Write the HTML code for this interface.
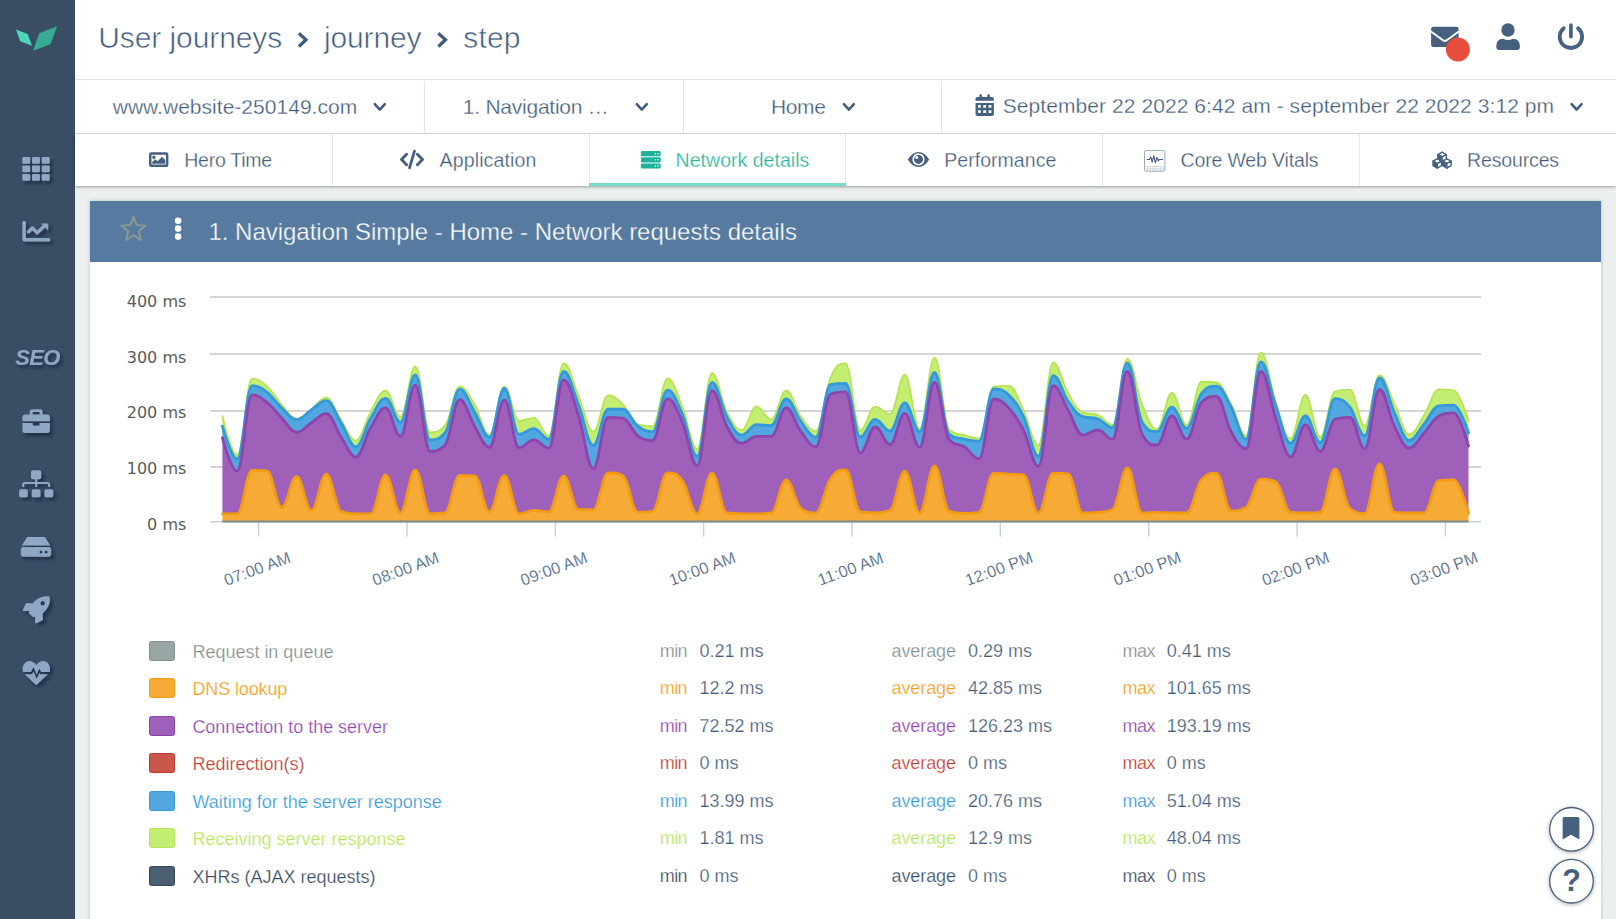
<!DOCTYPE html>
<html><head><meta charset="utf-8"><title>User journeys - step</title>
<style>
html,body{margin:0;padding:0}
body{width:1616px;height:919px;overflow:hidden;position:relative;background:#ecf0f1;font-family:"Liberation Sans",sans-serif}
.t{font-family:"Liberation Sans",sans-serif;white-space:pre}
.abs{position:absolute}
.yl{font-family:"DejaVu Sans",sans-serif;font-size:16px;fill:#5a5a5a}
.xl{font-family:"Liberation Sans",sans-serif;font-size:16.3px;letter-spacing:0.1px;fill:#3f5b7b;stroke:#fff;stroke-width:0.22px}
</style></head><body>
<div class="abs" style="left:0;top:0;width:75px;height:919px;background:#394d65"></div>
<div class="abs" style="left:75px;top:0;width:1541px;height:79px;background:#fff;border-bottom:1px solid #dde5e9"></div>
<div class="abs" style="left:75px;top:80px;width:1541px;height:53px;background:#fff;border-bottom:1px solid #dde5e9"></div>
<div class="abs" style="left:75px;top:134px;width:1541px;height:52px;background:#fff;box-shadow:0 1px 3px rgba(0,0,0,.35)"></div>
<div class="abs" style="left:424px;top:81px;width:1px;height:52px;background:#dde5e9"></div>
<div class="abs" style="left:683px;top:81px;width:1px;height:52px;background:#dde5e9"></div>
<div class="abs" style="left:941px;top:81px;width:1px;height:52px;background:#dde5e9"></div>
<div class="abs" style="left:332px;top:134px;width:1px;height:52px;background:#e3eaed"></div>
<div class="abs" style="left:589px;top:134px;width:1px;height:52px;background:#e3eaed"></div>
<div class="abs" style="left:845px;top:134px;width:1px;height:52px;background:#e3eaed"></div>
<div class="abs" style="left:1102px;top:134px;width:1px;height:52px;background:#e3eaed"></div>
<div class="abs" style="left:1359px;top:134px;width:1px;height:52px;background:#e3eaed"></div>
<div class="abs" style="left:589px;top:183px;width:257px;height:3px;background:#76dccb"></div>
<div class="abs" style="left:90px;top:201px;width:1511px;height:730px;background:#fff;box-shadow:0 0 4px rgba(0,0,0,.22)"></div>
<div class="abs" style="left:90px;top:201px;width:1511px;height:61px;background:#577ba0"></div>
<svg class="chart" width="1616" height="919" viewBox="0 0 1616 919" style="position:absolute;left:0;top:0"><rect x="210" y="296.35" width="1271" height="1.3" fill="#bfbfbf"/>
<rect x="210" y="353.35" width="1271" height="1.3" fill="#bfbfbf"/>
<rect x="210" y="410.35" width="1271" height="1.3" fill="#bfbfbf"/>
<rect x="210" y="466.35" width="1271" height="1.3" fill="#bfbfbf"/>
<rect x="210" y="521" width="1271" height="1.5" fill="#c3d1e2"/>
<rect x="257.9" y="522" width="1.4" height="14.6" fill="#c3d1e2"/>
<rect x="406.3" y="522" width="1.4" height="14.6" fill="#c3d1e2"/>
<rect x="554.6" y="522" width="1.4" height="14.6" fill="#c3d1e2"/>
<rect x="702.9" y="522" width="1.4" height="14.6" fill="#c3d1e2"/>
<rect x="851.3" y="522" width="1.4" height="14.6" fill="#c3d1e2"/>
<rect x="999.6" y="522" width="1.4" height="14.6" fill="#c3d1e2"/>
<rect x="1148" y="522" width="1.4" height="14.6" fill="#c3d1e2"/>
<rect x="1296.4" y="522" width="1.4" height="14.6" fill="#c3d1e2"/>
<rect x="1444.7" y="522" width="1.4" height="14.6" fill="#c3d1e2"/>
<path d="M222.4 416C222.4 416 231.3 454.8 237.2 454.8C243.2 454.8 246.1 378.6 252.1 378.6C258 378.6 261 380.9 266.9 386.1C272.8 391.2 275.8 397.9 281.7 404.5C287.7 411 290.6 418.8 296.6 418.8C302.5 418.8 305.5 413.4 311.4 409.2C317.3 405 320.3 397.6 326.2 397.6C332.2 397.6 335.1 411.5 341.1 420.1C347 428.7 350 440.5 355.9 440.5C361.8 440.5 364.8 421.3 370.8 411.3C376.7 401.3 379.7 390.6 385.6 390.6C391.5 390.6 394.5 416.7 400.4 416.7C406.4 416.7 409.3 366.3 415.3 366.3C421.2 366.3 424.2 432.4 430.1 432.4C436 432.4 439 432.4 444.9 425.6C450.9 418.8 453.8 386.5 459.8 386.5C465.7 386.5 468.7 394.7 474.6 404.5C480.5 414.2 483.5 435.1 489.4 435.1C495.4 435.1 498.3 386.5 504.3 386.5C510.2 386.5 513.2 420.8 519.1 420.8C525 420.8 528 417.8 533.9 417.8C539.9 417.8 542.8 435.8 548.8 435.8C554.7 435.8 557.7 363.3 563.6 363.3C569.5 363.3 572.5 381.9 578.4 395.6C584.4 409.3 587.3 431.7 593.3 431.7C599.2 431.7 602.2 395.2 608.1 395.2C614 395.2 617 398.7 622.9 404.5C628.9 410.3 631.8 422.2 637.8 424.2C643.7 426.2 646.7 426.2 652.6 426.2C658.5 426.2 661.5 378.6 667.5 378.6C673.4 378.6 676.4 392.5 682.3 406.5C688.2 420.5 691.2 448.7 697.1 448.7C703.1 448.7 706 373.1 712 373.1C717.9 373.1 720.9 400.6 726.8 411.9C732.7 423.3 735.7 430 741.6 430C747.6 430 750.5 406.5 756.5 406.5C762.4 406.5 765.4 419.4 771.3 419.4C777.2 419.4 780.2 390.6 786.1 390.6C792.1 390.6 795 408.6 801 416.7C806.9 424.8 809.9 431 815.8 431C821.7 431 824.7 390.8 830.6 377.2C836.6 363.7 839.5 363.3 845.5 363.3C851.4 363.3 854.4 430.3 860.3 430.3C866.2 430.3 869.2 406.5 875.1 406.5C881.1 406.5 884 414 890 414C895.9 414 898.9 374.5 904.8 374.5C910.7 374.5 913.7 429 919.6 429C925.6 429 928.5 357.5 934.5 357.5C940.4 357.5 943.4 424.2 949.3 429.6C955.2 435.1 958.2 433.3 964.1 435.1C970.1 436.9 973.1 438.5 979 438.5C984.9 438.5 987.9 387.3 993.8 386.5C999.8 385.7 1002.7 385.7 1008.7 385.7C1014.6 385.7 1017.6 398 1023.5 409.9C1029.4 421.8 1032.4 445.3 1038.3 445.3C1044.3 445.3 1047.2 362.5 1053.2 362.5C1059.1 362.5 1062.1 382.9 1068 392.9C1073.9 402.9 1076.9 410.6 1082.8 412.6C1088.8 414.7 1091.7 412.6 1097.7 414.7C1103.6 416.7 1106.6 424.9 1112.5 424.9C1118.4 424.9 1121.4 358.8 1127.3 358.8C1133.3 358.8 1136.2 390.4 1142.2 404.5C1148.1 418.5 1151.1 429 1157 429C1162.9 429 1165.9 392.9 1171.8 392.9C1177.8 392.9 1180.7 424.9 1186.7 424.9C1192.6 424.9 1195.6 381.6 1201.5 381.6C1207.4 381.6 1210.4 381.6 1216.3 382.4C1222.3 383.2 1225.2 393.8 1231.2 404.5C1237.1 415.1 1240.1 435.8 1246 435.8C1251.9 435.8 1254.9 352.5 1260.9 352.5C1266.8 352.5 1269.8 384.5 1275.7 401.7C1281.6 418.9 1284.6 438.5 1290.5 438.5C1296.5 438.5 1299.4 394.9 1305.4 394.9C1311.3 394.9 1314.3 437.1 1320.2 437.1C1326.1 437.1 1329.1 393.6 1335 391.5C1341 389.5 1343.9 389.5 1349.9 389.5C1355.8 389.5 1358.8 425.6 1364.7 425.6C1370.6 425.6 1373.6 375.2 1379.5 375.2C1385.5 375.2 1388.4 391.9 1394.4 403.8C1400.3 415.6 1403.3 434.4 1409.2 434.4C1415.1 434.4 1418.1 424.4 1424 415.3C1430 406.3 1432.9 389.2 1438.9 389.2C1444.8 389.2 1447.8 389.2 1453.7 390.2C1459.6 391.1 1468.5 420.8 1468.5 420.8L1468.5 433C1468.5 433 1459.6 405.1 1453.7 405.1C1447.8 405.1 1444.8 405.1 1438.9 405.8C1432.9 406.5 1430 417.3 1424 424.2C1418.1 431.1 1415.1 440.5 1409.2 440.5C1403.3 440.5 1400.3 425.1 1394.4 412.6C1388.4 400.1 1385.5 377.9 1379.5 377.9C1373.6 377.9 1370.6 435.8 1364.7 435.8C1358.8 435.8 1355.8 414.6 1349.9 407.2C1343.9 399.8 1341 398.7 1335 398.7C1329.1 398.7 1326.1 442.6 1320.2 442.6C1314.3 442.6 1311.3 416 1305.4 416C1299.4 416 1296.5 443.3 1290.5 443.3C1284.6 443.3 1281.6 422.1 1275.7 405.8C1269.8 389.6 1266.8 362 1260.9 362C1254.9 362 1251.9 439.2 1246 439.2C1240.1 439.2 1237.1 417.8 1231.2 407.2C1225.2 396.6 1222.3 386.1 1216.3 386.1C1210.4 386.1 1207.4 386.1 1201.5 393.6C1195.6 401.1 1192.6 428.3 1186.7 428.3C1180.7 428.3 1177.8 407.2 1171.8 407.2C1165.9 407.2 1162.9 431.7 1157 431.7C1151.1 431.7 1148.1 431.7 1142.2 422.2C1136.2 412.6 1133.3 362.9 1127.3 362.9C1121.4 362.9 1118.4 427.6 1112.5 427.6C1106.6 427.6 1103.6 420.8 1097.7 418.8C1091.7 416.7 1088.8 418.8 1082.8 416.7C1076.9 414.7 1073.9 409.3 1068 401.1C1062.1 392.8 1059.1 375.6 1053.2 375.6C1047.2 375.6 1044.3 456.2 1038.3 456.2C1032.4 456.2 1029.4 429 1023.5 416.7C1017.6 404.5 1014.6 400.5 1008.7 394.9C1002.7 389.3 999.8 388.8 993.8 388.8C987.9 388.8 984.9 441.2 979 441.2C973.1 441.2 970.1 440.5 964.1 439.2C958.2 437.8 955.2 439.2 949.3 434.4C943.4 429.6 940.4 372.5 934.5 372.5C928.5 372.5 925.6 431.7 919.6 431.7C913.7 431.7 910.7 402.8 904.8 402.8C898.9 402.8 895.9 431 890 431C884 431 881.1 419.4 875.1 419.4C869.2 419.4 866.2 437.1 860.3 437.1C854.4 437.1 851.4 383.4 845.5 383.4C839.5 383.4 836.6 383.4 830.6 384.7C824.7 386.1 821.7 437.1 815.8 437.1C809.9 437.1 806.9 429.1 801 421.5C795 413.8 792.1 399 786.1 399C780.2 399 777.2 425.6 771.3 425.6C765.4 425.6 762.4 424.6 756.5 424.6C750.5 424.6 747.6 435.1 741.6 435.1C735.7 435.1 732.7 427.2 726.8 416.7C720.9 406.2 717.9 382.4 712 382.4C706 382.4 703.1 456.2 697.1 456.2C691.2 456.2 688.2 427.2 682.3 414C676.4 400.8 673.4 390.2 667.5 390.2C661.5 390.2 658.5 431.7 652.6 431.7C646.7 431.7 643.7 430.7 637.8 426.2C631.8 421.7 628.9 409.2 622.9 409.2C617 409.2 614 409.2 608.1 409.2C602.2 409.2 599.2 445.3 593.3 445.3C587.3 445.3 584.4 419.2 578.4 404.5C572.5 389.7 569.5 371.5 563.6 371.5C557.7 371.5 554.7 439.2 548.8 439.2C542.8 439.2 539.9 428.7 533.9 428.7C528 428.7 525 434.4 519.1 434.4C513.2 434.4 510.2 388.4 504.3 388.4C498.3 388.4 495.4 437.1 489.4 437.1C483.5 437.1 480.5 421.5 474.6 411.9C468.7 402.4 465.7 389.2 459.8 389.2C453.8 389.2 450.9 426.2 444.9 433C439 439.9 436 439.9 430.1 439.9C424.2 439.9 421.2 374.9 415.3 374.9C409.3 374.9 406.4 422.2 400.4 422.2C394.5 422.2 391.5 398.3 385.6 398.3C379.7 398.3 376.7 408.3 370.8 418.1C364.8 427.8 361.8 446.9 355.9 446.9C350 446.9 347 432.1 341.1 422.8C335.1 413.6 332.2 400.6 326.2 400.6C320.3 400.6 317.3 406.1 311.4 409.9C305.5 413.7 302.5 419.7 296.6 419.7C290.6 419.7 287.7 413.4 281.7 407.9C275.8 402.4 272.8 396.6 266.9 392.2C261 387.8 258 385.7 252.1 385.7C246.1 385.7 243.2 458.9 237.2 458.9C231.3 458.9 222.4 426.2 222.4 426.2Z" fill="#c4ee72"/>
<path d="M222.4 426.2C222.4 426.2 231.3 458.9 237.2 458.9C243.2 458.9 246.1 385.7 252.1 385.7C258 385.7 261 387.8 266.9 392.2C272.8 396.6 275.8 402.4 281.7 407.9C287.7 413.4 290.6 419.7 296.6 419.7C302.5 419.7 305.5 413.7 311.4 409.9C317.3 406.1 320.3 400.6 326.2 400.6C332.2 400.6 335.1 413.6 341.1 422.8C347 432.1 350 446.9 355.9 446.9C361.8 446.9 364.8 427.8 370.8 418.1C376.7 408.3 379.7 398.3 385.6 398.3C391.5 398.3 394.5 422.2 400.4 422.2C406.4 422.2 409.3 374.9 415.3 374.9C421.2 374.9 424.2 439.9 430.1 439.9C436 439.9 439 439.9 444.9 433C450.9 426.2 453.8 389.2 459.8 389.2C465.7 389.2 468.7 402.4 474.6 411.9C480.5 421.5 483.5 437.1 489.4 437.1C495.4 437.1 498.3 388.4 504.3 388.4C510.2 388.4 513.2 434.4 519.1 434.4C525 434.4 528 428.7 533.9 428.7C539.9 428.7 542.8 439.2 548.8 439.2C554.7 439.2 557.7 371.5 563.6 371.5C569.5 371.5 572.5 389.7 578.4 404.5C584.4 419.2 587.3 445.3 593.3 445.3C599.2 445.3 602.2 409.2 608.1 409.2C614 409.2 617 409.2 622.9 409.2C628.9 409.2 631.8 421.7 637.8 426.2C643.7 430.7 646.7 431.7 652.6 431.7C658.5 431.7 661.5 390.2 667.5 390.2C673.4 390.2 676.4 400.8 682.3 414C688.2 427.2 691.2 456.2 697.1 456.2C703.1 456.2 706 382.4 712 382.4C717.9 382.4 720.9 406.2 726.8 416.7C732.7 427.2 735.7 435.1 741.6 435.1C747.6 435.1 750.5 424.6 756.5 424.6C762.4 424.6 765.4 425.6 771.3 425.6C777.2 425.6 780.2 399 786.1 399C792.1 399 795 413.8 801 421.5C806.9 429.1 809.9 437.1 815.8 437.1C821.7 437.1 824.7 386.1 830.6 384.7C836.6 383.4 839.5 383.4 845.5 383.4C851.4 383.4 854.4 437.1 860.3 437.1C866.2 437.1 869.2 419.4 875.1 419.4C881.1 419.4 884 431 890 431C895.9 431 898.9 402.8 904.8 402.8C910.7 402.8 913.7 431.7 919.6 431.7C925.6 431.7 928.5 372.5 934.5 372.5C940.4 372.5 943.4 429.6 949.3 434.4C955.2 439.2 958.2 437.8 964.1 439.2C970.1 440.5 973.1 441.2 979 441.2C984.9 441.2 987.9 388.8 993.8 388.8C999.8 388.8 1002.7 389.3 1008.7 394.9C1014.6 400.5 1017.6 404.5 1023.5 416.7C1029.4 429 1032.4 456.2 1038.3 456.2C1044.3 456.2 1047.2 375.6 1053.2 375.6C1059.1 375.6 1062.1 392.8 1068 401.1C1073.9 409.3 1076.9 414.7 1082.8 416.7C1088.8 418.8 1091.7 416.7 1097.7 418.8C1103.6 420.8 1106.6 427.6 1112.5 427.6C1118.4 427.6 1121.4 362.9 1127.3 362.9C1133.3 362.9 1136.2 412.6 1142.2 422.2C1148.1 431.7 1151.1 431.7 1157 431.7C1162.9 431.7 1165.9 407.2 1171.8 407.2C1177.8 407.2 1180.7 428.3 1186.7 428.3C1192.6 428.3 1195.6 401.1 1201.5 393.6C1207.4 386.1 1210.4 386.1 1216.3 386.1C1222.3 386.1 1225.2 396.6 1231.2 407.2C1237.1 417.8 1240.1 439.2 1246 439.2C1251.9 439.2 1254.9 362 1260.9 362C1266.8 362 1269.8 389.6 1275.7 405.8C1281.6 422.1 1284.6 443.3 1290.5 443.3C1296.5 443.3 1299.4 416 1305.4 416C1311.3 416 1314.3 442.6 1320.2 442.6C1326.1 442.6 1329.1 398.7 1335 398.7C1341 398.7 1343.9 399.8 1349.9 407.2C1355.8 414.6 1358.8 435.8 1364.7 435.8C1370.6 435.8 1373.6 377.9 1379.5 377.9C1385.5 377.9 1388.4 400.1 1394.4 412.6C1400.3 425.1 1403.3 440.5 1409.2 440.5C1415.1 440.5 1418.1 431.1 1424 424.2C1430 417.3 1432.9 406.5 1438.9 405.8C1444.8 405.1 1447.8 405.1 1453.7 405.1C1459.6 405.1 1468.5 433 1468.5 433L1468.5 446C1468.5 446 1459.6 412.9 1453.7 412.9C1447.8 412.9 1444.8 412.9 1438.9 416C1432.9 419.2 1430 426.6 1424 433C1418.1 439.4 1415.1 448 1409.2 448C1403.3 448 1400.3 437.9 1394.4 426.2C1388.4 414.5 1385.5 389.5 1379.5 389.5C1373.6 389.5 1370.6 448.7 1364.7 448.7C1358.8 448.7 1355.8 417.4 1349.9 417.4C1343.9 417.4 1341 417.4 1335 419.4C1329.1 421.5 1326.1 451.4 1320.2 451.4C1314.3 451.4 1311.3 424.9 1305.4 424.9C1299.4 424.9 1296.5 456.9 1290.5 456.9C1284.6 456.9 1281.6 435.1 1275.7 418.1C1269.8 401 1266.8 371.5 1260.9 371.5C1254.9 371.5 1251.9 448.7 1246 448.7C1240.1 448.7 1237.1 442.2 1231.2 431.7C1225.2 421.2 1222.3 396.3 1216.3 396.3C1210.4 396.3 1207.4 396.3 1201.5 402.4C1195.6 408.5 1192.6 439.2 1186.7 439.2C1180.7 439.2 1177.8 416 1171.8 416C1165.9 416 1162.9 445 1157 445C1151.1 445 1148.1 445 1142.2 434.4C1136.2 423.8 1133.3 371.5 1127.3 371.5C1121.4 371.5 1118.4 439.2 1112.5 439.2C1106.6 439.2 1103.6 430 1097.7 430C1091.7 430 1088.8 435.1 1082.8 435.1C1076.9 435.1 1073.9 419.8 1068 409.9C1062.1 400 1059.1 385.7 1053.2 385.7C1047.2 385.7 1044.3 466.4 1038.3 466.4C1032.4 466.4 1029.4 442 1023.5 430.3C1017.6 418.6 1014.6 414.1 1008.7 407.9C1002.7 401.6 999.8 399 993.8 399C987.9 399 984.9 458.9 979 458.9C973.1 458.9 970.1 450.5 964.1 446.7C958.2 442.8 955.2 446.7 949.3 439.9C943.4 433 940.4 382.4 934.5 382.4C928.5 382.4 925.6 447.3 919.6 447.3C913.7 447.3 910.7 413.3 904.8 413.3C898.9 413.3 895.9 444.6 890 444.6C884 444.6 881.1 426.9 875.1 426.9C869.2 426.9 866.2 452.8 860.3 452.8C854.4 452.8 851.4 391.9 845.5 391.9C839.5 391.9 836.6 391.9 830.6 394.2C824.7 396.6 821.7 446.7 815.8 446.7C809.9 446.7 806.9 439.4 801 431.7C795 423.9 792.1 407.9 786.1 407.9C780.2 407.9 777.2 436.4 771.3 436.4C765.4 436.4 762.4 436.4 756.5 436.4C750.5 436.4 747.6 443.3 741.6 443.3C735.7 443.3 732.7 436.8 726.8 426.2C720.9 415.7 717.9 390.6 712 390.6C706 390.6 703.1 465.7 697.1 465.7C691.2 465.7 688.2 435.5 682.3 422.2C676.4 408.8 673.4 399 667.5 399C661.5 399 658.5 440.5 652.6 440.5C646.7 440.5 643.7 440.3 637.8 435.8C631.8 431.3 628.9 418.8 622.9 418.1C617 417.4 614 417.4 608.1 417.4C602.2 417.4 599.2 468.4 593.3 468.4C587.3 468.4 584.4 433 578.4 415.3C572.5 397.6 569.5 380 563.6 380C557.7 380 554.7 448 548.8 448C542.8 448 539.9 439.9 533.9 439.9C528 439.9 525 447.7 519.1 447.7C513.2 447.7 510.2 400.1 504.3 400.1C498.3 400.1 495.4 447.3 489.4 447.3C483.5 447.3 480.5 435.8 474.6 426.2C468.7 416.7 465.7 399.7 459.8 399.7C453.8 399.7 450.9 439.2 444.9 445.3C439 451.4 436 451.4 430.1 451.4C424.2 451.4 421.2 385.1 415.3 385.1C409.3 385.1 406.4 436.4 400.4 436.4C394.5 436.4 391.5 407.9 385.6 407.9C379.7 407.9 376.7 417.8 370.8 427.6C364.8 437.4 361.8 456.9 355.9 456.9C350 456.9 347 445.8 341.1 437.1C335.1 428.5 332.2 413.7 326.2 413.7C320.3 413.7 317.3 419.1 311.4 422.8C305.5 426.6 302.5 432.4 296.6 432.4C290.6 432.4 287.7 424.1 281.7 418.1C275.8 412.1 272.8 407 266.9 402.4C261 397.8 258 394.9 252.1 394.9C246.1 394.9 243.2 471.2 237.2 471.2C231.3 471.2 222.4 437.8 222.4 437.8Z" fill="#52a7e0"/>
<path d="M222.4 437.8C222.4 437.8 231.3 471.2 237.2 471.2C243.2 471.2 246.1 394.9 252.1 394.9C258 394.9 261 397.8 266.9 402.4C272.8 407 275.8 412.1 281.7 418.1C287.7 424.1 290.6 432.4 296.6 432.4C302.5 432.4 305.5 426.6 311.4 422.8C317.3 419.1 320.3 413.7 326.2 413.7C332.2 413.7 335.1 428.5 341.1 437.1C347 445.8 350 456.9 355.9 456.9C361.8 456.9 364.8 437.4 370.8 427.6C376.7 417.8 379.7 407.9 385.6 407.9C391.5 407.9 394.5 436.4 400.4 436.4C406.4 436.4 409.3 385.1 415.3 385.1C421.2 385.1 424.2 451.4 430.1 451.4C436 451.4 439 451.4 444.9 445.3C450.9 439.2 453.8 399.7 459.8 399.7C465.7 399.7 468.7 416.7 474.6 426.2C480.5 435.8 483.5 447.3 489.4 447.3C495.4 447.3 498.3 400.1 504.3 400.1C510.2 400.1 513.2 447.7 519.1 447.7C525 447.7 528 439.9 533.9 439.9C539.9 439.9 542.8 448 548.8 448C554.7 448 557.7 380 563.6 380C569.5 380 572.5 397.6 578.4 415.3C584.4 433 587.3 468.4 593.3 468.4C599.2 468.4 602.2 417.4 608.1 417.4C614 417.4 617 417.4 622.9 418.1C628.9 418.8 631.8 431.3 637.8 435.8C643.7 440.3 646.7 440.5 652.6 440.5C658.5 440.5 661.5 399 667.5 399C673.4 399 676.4 408.8 682.3 422.2C688.2 435.5 691.2 465.7 697.1 465.7C703.1 465.7 706 390.6 712 390.6C717.9 390.6 720.9 415.7 726.8 426.2C732.7 436.8 735.7 443.3 741.6 443.3C747.6 443.3 750.5 436.4 756.5 436.4C762.4 436.4 765.4 436.4 771.3 436.4C777.2 436.4 780.2 407.9 786.1 407.9C792.1 407.9 795 423.9 801 431.7C806.9 439.4 809.9 446.7 815.8 446.7C821.7 446.7 824.7 396.6 830.6 394.2C836.6 391.9 839.5 391.9 845.5 391.9C851.4 391.9 854.4 452.8 860.3 452.8C866.2 452.8 869.2 426.9 875.1 426.9C881.1 426.9 884 444.6 890 444.6C895.9 444.6 898.9 413.3 904.8 413.3C910.7 413.3 913.7 447.3 919.6 447.3C925.6 447.3 928.5 382.4 934.5 382.4C940.4 382.4 943.4 433 949.3 439.9C955.2 446.7 958.2 442.8 964.1 446.7C970.1 450.5 973.1 458.9 979 458.9C984.9 458.9 987.9 399 993.8 399C999.8 399 1002.7 401.6 1008.7 407.9C1014.6 414.1 1017.6 418.6 1023.5 430.3C1029.4 442 1032.4 466.4 1038.3 466.4C1044.3 466.4 1047.2 385.7 1053.2 385.7C1059.1 385.7 1062.1 400 1068 409.9C1073.9 419.8 1076.9 435.1 1082.8 435.1C1088.8 435.1 1091.7 430 1097.7 430C1103.6 430 1106.6 439.2 1112.5 439.2C1118.4 439.2 1121.4 371.5 1127.3 371.5C1133.3 371.5 1136.2 423.8 1142.2 434.4C1148.1 445 1151.1 445 1157 445C1162.9 445 1165.9 416 1171.8 416C1177.8 416 1180.7 439.2 1186.7 439.2C1192.6 439.2 1195.6 408.5 1201.5 402.4C1207.4 396.3 1210.4 396.3 1216.3 396.3C1222.3 396.3 1225.2 421.2 1231.2 431.7C1237.1 442.2 1240.1 448.7 1246 448.7C1251.9 448.7 1254.9 371.5 1260.9 371.5C1266.8 371.5 1269.8 401 1275.7 418.1C1281.6 435.1 1284.6 456.9 1290.5 456.9C1296.5 456.9 1299.4 424.9 1305.4 424.9C1311.3 424.9 1314.3 451.4 1320.2 451.4C1326.1 451.4 1329.1 421.5 1335 419.4C1341 417.4 1343.9 417.4 1349.9 417.4C1355.8 417.4 1358.8 448.7 1364.7 448.7C1370.6 448.7 1373.6 389.5 1379.5 389.5C1385.5 389.5 1388.4 414.5 1394.4 426.2C1400.3 437.9 1403.3 448 1409.2 448C1415.1 448 1418.1 439.4 1424 433C1430 426.6 1432.9 419.2 1438.9 416C1444.8 412.9 1447.8 412.9 1453.7 412.9C1459.6 412.9 1468.5 446 1468.5 446L1468.5 513.4C1468.5 513.4 1459.6 479.8 1453.7 479.8C1447.8 479.8 1444.8 479.8 1438.9 480.7C1432.9 481.7 1430 513 1424 513C1418.1 513 1415.1 513 1409.2 513C1403.3 513 1400.3 513 1394.4 512.4C1388.4 511.8 1385.5 463.9 1379.5 463.9C1373.6 463.9 1370.6 513.4 1364.7 513.4C1358.8 513.4 1355.8 513.4 1349.9 508.5C1343.9 503.5 1341 468.9 1335 468.9C1329.1 468.9 1326.1 511.8 1320.2 512.4C1314.3 513 1311.3 513 1305.4 513C1299.4 513 1296.5 513 1290.5 512.4C1284.6 511.8 1281.6 484.3 1275.7 481.7C1269.8 479.2 1266.8 479.2 1260.9 479.2C1254.9 479.2 1251.9 503.9 1246 507.5C1240.1 511 1237.1 511 1231.2 511C1225.2 511 1222.3 473.2 1216.3 473.2C1210.4 473.2 1207.4 473.2 1201.5 479.8C1195.6 486.3 1192.6 513 1186.7 513C1180.7 513 1177.8 512.9 1171.8 512.8C1165.9 512.7 1162.9 512.4 1157 512.4C1151.1 512.4 1148.1 513 1142.2 513C1136.2 513 1133.3 467.9 1127.3 467.9C1121.4 467.9 1118.4 506.5 1112.5 509.5C1106.6 512.4 1103.6 511.8 1097.7 512.4C1091.7 513 1088.8 513 1082.8 513C1076.9 513 1073.9 474.4 1068 473.8C1062.1 473.2 1059.1 473.2 1053.2 473.2C1047.2 473.2 1044.3 513 1038.3 513C1032.4 513 1029.4 475.4 1023.5 474.8C1017.6 474.2 1014.6 474.5 1008.7 474.2C1002.7 473.9 999.8 473.2 993.8 473.2C987.9 473.2 984.9 511.4 979 512.4C973.1 513.4 970.1 513.4 964.1 513.4C958.2 513.4 955.2 513.4 949.3 511.4C943.4 509.5 940.4 465.9 934.5 465.9C928.5 465.9 925.6 513 919.6 513C913.7 513 910.7 471.2 904.8 471.2C898.9 471.2 895.9 508.1 890 510.4C884 512.8 881.1 512.8 875.1 512.8C869.2 512.8 866.2 512.8 860.3 512C854.4 511.2 851.4 469.9 845.5 469.9C839.5 469.9 836.6 470.1 830.6 478.8C824.7 487.4 821.7 513 815.8 513C809.9 513 806.9 513 801 508.5C795 503.9 792.1 479.8 786.1 479.8C780.2 479.8 777.2 512.2 771.3 513C765.4 513.8 762.4 513.8 756.5 513.8C750.5 513.8 747.6 513.8 741.6 513.8C735.7 513.8 732.7 513.8 726.8 513C720.9 512.2 717.9 473.2 712 473.2C706 473.2 703.1 513.8 697.1 513.8C691.2 513.8 688.2 488.7 682.3 480.7C676.4 472.8 673.4 472.8 667.5 472.8C661.5 472.8 658.5 510.4 652.6 511.4C646.7 512.4 643.7 512.4 637.8 512.4C631.8 512.4 628.9 478.8 622.9 475.8C617 472.8 614 472.8 608.1 472.8C602.2 472.8 599.2 509.9 593.3 509.9C587.3 509.9 584.4 509.9 578.4 509.5C572.5 509.1 569.5 475.8 563.6 475.8C557.7 475.8 554.7 512 548.8 512C542.8 512 539.9 510.4 533.9 510.4C528 510.4 525 513.8 519.1 513.8C513.2 513.8 510.2 475.4 504.3 475.4C498.3 475.4 495.4 511.8 489.4 511.8C483.5 511.8 480.5 476.2 474.6 475.8C468.7 475.4 465.7 475.4 459.8 475.4C453.8 475.4 450.9 512.2 444.9 513C439 513.8 436 513.8 430.1 513.8C424.2 513.8 421.2 469.9 415.3 469.9C409.3 469.9 406.4 512.8 400.4 512.8C394.5 512.8 391.5 474.8 385.6 474.8C379.7 474.8 376.7 513.8 370.8 513.8C364.8 513.8 361.8 513.8 355.9 513.8C350 513.8 347 513.8 341.1 511.4C335.1 509.1 332.2 474.2 326.2 474.2C320.3 474.2 317.3 510.4 311.4 510.4C305.5 510.4 302.5 476.4 296.6 476.4C290.6 476.4 287.7 507.5 281.7 507.5C275.8 507.5 272.8 471.2 266.9 470.8C261 470.4 258 470.4 252.1 470.4C246.1 470.4 243.2 513.8 237.2 513.8C231.3 513.8 222.4 513.8 222.4 513.8Z" fill="#9f60b9"/>
<path d="M222.4 513.8C222.4 513.8 231.3 513.8 237.2 513.8C243.2 513.8 246.1 470.4 252.1 470.4C258 470.4 261 470.4 266.9 470.8C272.8 471.2 275.8 507.5 281.7 507.5C287.7 507.5 290.6 476.4 296.6 476.4C302.5 476.4 305.5 510.4 311.4 510.4C317.3 510.4 320.3 474.2 326.2 474.2C332.2 474.2 335.1 509.1 341.1 511.4C347 513.8 350 513.8 355.9 513.8C361.8 513.8 364.8 513.8 370.8 513.8C376.7 513.8 379.7 474.8 385.6 474.8C391.5 474.8 394.5 512.8 400.4 512.8C406.4 512.8 409.3 469.9 415.3 469.9C421.2 469.9 424.2 513.8 430.1 513.8C436 513.8 439 513.8 444.9 513C450.9 512.2 453.8 475.4 459.8 475.4C465.7 475.4 468.7 475.4 474.6 475.8C480.5 476.2 483.5 511.8 489.4 511.8C495.4 511.8 498.3 475.4 504.3 475.4C510.2 475.4 513.2 513.8 519.1 513.8C525 513.8 528 510.4 533.9 510.4C539.9 510.4 542.8 512 548.8 512C554.7 512 557.7 475.8 563.6 475.8C569.5 475.8 572.5 509.1 578.4 509.5C584.4 509.9 587.3 509.9 593.3 509.9C599.2 509.9 602.2 472.8 608.1 472.8C614 472.8 617 472.8 622.9 475.8C628.9 478.8 631.8 512.4 637.8 512.4C643.7 512.4 646.7 512.4 652.6 511.4C658.5 510.4 661.5 472.8 667.5 472.8C673.4 472.8 676.4 472.8 682.3 480.7C688.2 488.7 691.2 513.8 697.1 513.8C703.1 513.8 706 473.2 712 473.2C717.9 473.2 720.9 512.2 726.8 513C732.7 513.8 735.7 513.8 741.6 513.8C747.6 513.8 750.5 513.8 756.5 513.8C762.4 513.8 765.4 513.8 771.3 513C777.2 512.2 780.2 479.8 786.1 479.8C792.1 479.8 795 503.9 801 508.5C806.9 513 809.9 513 815.8 513C821.7 513 824.7 487.4 830.6 478.8C836.6 470.1 839.5 469.9 845.5 469.9C851.4 469.9 854.4 511.2 860.3 512C866.2 512.8 869.2 512.8 875.1 512.8C881.1 512.8 884 512.8 890 510.4C895.9 508.1 898.9 471.2 904.8 471.2C910.7 471.2 913.7 513 919.6 513C925.6 513 928.5 465.9 934.5 465.9C940.4 465.9 943.4 509.5 949.3 511.4C955.2 513.4 958.2 513.4 964.1 513.4C970.1 513.4 973.1 513.4 979 512.4C984.9 511.4 987.9 473.2 993.8 473.2C999.8 473.2 1002.7 473.9 1008.7 474.2C1014.6 474.5 1017.6 474.2 1023.5 474.8C1029.4 475.4 1032.4 513 1038.3 513C1044.3 513 1047.2 473.2 1053.2 473.2C1059.1 473.2 1062.1 473.2 1068 473.8C1073.9 474.4 1076.9 513 1082.8 513C1088.8 513 1091.7 513 1097.7 512.4C1103.6 511.8 1106.6 512.4 1112.5 509.5C1118.4 506.5 1121.4 467.9 1127.3 467.9C1133.3 467.9 1136.2 513 1142.2 513C1148.1 513 1151.1 512.4 1157 512.4C1162.9 512.4 1165.9 512.7 1171.8 512.8C1177.8 512.9 1180.7 513 1186.7 513C1192.6 513 1195.6 486.3 1201.5 479.8C1207.4 473.2 1210.4 473.2 1216.3 473.2C1222.3 473.2 1225.2 511 1231.2 511C1237.1 511 1240.1 511 1246 507.5C1251.9 503.9 1254.9 479.2 1260.9 479.2C1266.8 479.2 1269.8 479.2 1275.7 481.7C1281.6 484.3 1284.6 511.8 1290.5 512.4C1296.5 513 1299.4 513 1305.4 513C1311.3 513 1314.3 513 1320.2 512.4C1326.1 511.8 1329.1 468.9 1335 468.9C1341 468.9 1343.9 503.5 1349.9 508.5C1355.8 513.4 1358.8 513.4 1364.7 513.4C1370.6 513.4 1373.6 463.9 1379.5 463.9C1385.5 463.9 1388.4 511.8 1394.4 512.4C1400.3 513 1403.3 513 1409.2 513C1415.1 513 1418.1 513 1424 513C1430 513 1432.9 481.7 1438.9 480.7C1444.8 479.8 1447.8 479.8 1453.7 479.8C1459.6 479.8 1468.5 513.4 1468.5 513.4L1468.5 521.7C1468.5 521.7 1459.6 521.7 1453.7 521.7C1447.8 521.7 1444.8 521.7 1438.9 521.7C1432.9 521.7 1430 521.7 1424 521.7C1418.1 521.7 1415.1 521.7 1409.2 521.7C1403.3 521.7 1400.3 521.7 1394.4 521.7C1388.4 521.7 1385.5 521.7 1379.5 521.7C1373.6 521.7 1370.6 521.7 1364.7 521.7C1358.8 521.7 1355.8 521.7 1349.9 521.7C1343.9 521.7 1341 521.7 1335 521.7C1329.1 521.7 1326.1 521.7 1320.2 521.7C1314.3 521.7 1311.3 521.7 1305.4 521.7C1299.4 521.7 1296.5 521.7 1290.5 521.7C1284.6 521.7 1281.6 521.7 1275.7 521.7C1269.8 521.7 1266.8 521.7 1260.9 521.7C1254.9 521.7 1251.9 521.7 1246 521.7C1240.1 521.7 1237.1 521.7 1231.2 521.7C1225.2 521.7 1222.3 521.7 1216.3 521.7C1210.4 521.7 1207.4 521.7 1201.5 521.7C1195.6 521.7 1192.6 521.7 1186.7 521.7C1180.7 521.7 1177.8 521.7 1171.8 521.7C1165.9 521.7 1162.9 521.7 1157 521.7C1151.1 521.7 1148.1 521.7 1142.2 521.7C1136.2 521.7 1133.3 521.7 1127.3 521.7C1121.4 521.7 1118.4 521.7 1112.5 521.7C1106.6 521.7 1103.6 521.7 1097.7 521.7C1091.7 521.7 1088.8 521.7 1082.8 521.7C1076.9 521.7 1073.9 521.7 1068 521.7C1062.1 521.7 1059.1 521.7 1053.2 521.7C1047.2 521.7 1044.3 521.7 1038.3 521.7C1032.4 521.7 1029.4 521.7 1023.5 521.7C1017.6 521.7 1014.6 521.7 1008.7 521.7C1002.7 521.7 999.8 521.7 993.8 521.7C987.9 521.7 984.9 521.7 979 521.7C973.1 521.7 970.1 521.7 964.1 521.7C958.2 521.7 955.2 521.7 949.3 521.7C943.4 521.7 940.4 521.7 934.5 521.7C928.5 521.7 925.6 521.7 919.6 521.7C913.7 521.7 910.7 521.7 904.8 521.7C898.9 521.7 895.9 521.7 890 521.7C884 521.7 881.1 521.7 875.1 521.7C869.2 521.7 866.2 521.7 860.3 521.7C854.4 521.7 851.4 521.7 845.5 521.7C839.5 521.7 836.6 521.7 830.6 521.7C824.7 521.7 821.7 521.7 815.8 521.7C809.9 521.7 806.9 521.7 801 521.7C795 521.7 792.1 521.7 786.1 521.7C780.2 521.7 777.2 521.7 771.3 521.7C765.4 521.7 762.4 521.7 756.5 521.7C750.5 521.7 747.6 521.7 741.6 521.7C735.7 521.7 732.7 521.7 726.8 521.7C720.9 521.7 717.9 521.7 712 521.7C706 521.7 703.1 521.7 697.1 521.7C691.2 521.7 688.2 521.7 682.3 521.7C676.4 521.7 673.4 521.7 667.5 521.7C661.5 521.7 658.5 521.7 652.6 521.7C646.7 521.7 643.7 521.7 637.8 521.7C631.8 521.7 628.9 521.7 622.9 521.7C617 521.7 614 521.7 608.1 521.7C602.2 521.7 599.2 521.7 593.3 521.7C587.3 521.7 584.4 521.7 578.4 521.7C572.5 521.7 569.5 521.7 563.6 521.7C557.7 521.7 554.7 521.7 548.8 521.7C542.8 521.7 539.9 521.7 533.9 521.7C528 521.7 525 521.7 519.1 521.7C513.2 521.7 510.2 521.7 504.3 521.7C498.3 521.7 495.4 521.7 489.4 521.7C483.5 521.7 480.5 521.7 474.6 521.7C468.7 521.7 465.7 521.7 459.8 521.7C453.8 521.7 450.9 521.7 444.9 521.7C439 521.7 436 521.7 430.1 521.7C424.2 521.7 421.2 521.7 415.3 521.7C409.3 521.7 406.4 521.7 400.4 521.7C394.5 521.7 391.5 521.7 385.6 521.7C379.7 521.7 376.7 521.7 370.8 521.7C364.8 521.7 361.8 521.7 355.9 521.7C350 521.7 347 521.7 341.1 521.7C335.1 521.7 332.2 521.7 326.2 521.7C320.3 521.7 317.3 521.7 311.4 521.7C305.5 521.7 302.5 521.7 296.6 521.7C290.6 521.7 287.7 521.7 281.7 521.7C275.8 521.7 272.8 521.7 266.9 521.7C261 521.7 258 521.7 252.1 521.7C246.1 521.7 243.2 521.7 237.2 521.7C231.3 521.7 222.4 521.7 222.4 521.7Z" fill="#f5ab36"/>
<path d="M222.4 416C222.4 416 231.3 454.8 237.2 454.8C243.2 454.8 246.1 378.6 252.1 378.6C258 378.6 261 380.9 266.9 386.1C272.8 391.2 275.8 397.9 281.7 404.5C287.7 411 290.6 418.8 296.6 418.8C302.5 418.8 305.5 413.4 311.4 409.2C317.3 405 320.3 397.6 326.2 397.6C332.2 397.6 335.1 411.5 341.1 420.1C347 428.7 350 440.5 355.9 440.5C361.8 440.5 364.8 421.3 370.8 411.3C376.7 401.3 379.7 390.6 385.6 390.6C391.5 390.6 394.5 416.7 400.4 416.7C406.4 416.7 409.3 366.3 415.3 366.3C421.2 366.3 424.2 432.4 430.1 432.4C436 432.4 439 432.4 444.9 425.6C450.9 418.8 453.8 386.5 459.8 386.5C465.7 386.5 468.7 394.7 474.6 404.5C480.5 414.2 483.5 435.1 489.4 435.1C495.4 435.1 498.3 386.5 504.3 386.5C510.2 386.5 513.2 420.8 519.1 420.8C525 420.8 528 417.8 533.9 417.8C539.9 417.8 542.8 435.8 548.8 435.8C554.7 435.8 557.7 363.3 563.6 363.3C569.5 363.3 572.5 381.9 578.4 395.6C584.4 409.3 587.3 431.7 593.3 431.7C599.2 431.7 602.2 395.2 608.1 395.2C614 395.2 617 398.7 622.9 404.5C628.9 410.3 631.8 422.2 637.8 424.2C643.7 426.2 646.7 426.2 652.6 426.2C658.5 426.2 661.5 378.6 667.5 378.6C673.4 378.6 676.4 392.5 682.3 406.5C688.2 420.5 691.2 448.7 697.1 448.7C703.1 448.7 706 373.1 712 373.1C717.9 373.1 720.9 400.6 726.8 411.9C732.7 423.3 735.7 430 741.6 430C747.6 430 750.5 406.5 756.5 406.5C762.4 406.5 765.4 419.4 771.3 419.4C777.2 419.4 780.2 390.6 786.1 390.6C792.1 390.6 795 408.6 801 416.7C806.9 424.8 809.9 431 815.8 431C821.7 431 824.7 390.8 830.6 377.2C836.6 363.7 839.5 363.3 845.5 363.3C851.4 363.3 854.4 430.3 860.3 430.3C866.2 430.3 869.2 406.5 875.1 406.5C881.1 406.5 884 414 890 414C895.9 414 898.9 374.5 904.8 374.5C910.7 374.5 913.7 429 919.6 429C925.6 429 928.5 357.5 934.5 357.5C940.4 357.5 943.4 424.2 949.3 429.6C955.2 435.1 958.2 433.3 964.1 435.1C970.1 436.9 973.1 438.5 979 438.5C984.9 438.5 987.9 387.3 993.8 386.5C999.8 385.7 1002.7 385.7 1008.7 385.7C1014.6 385.7 1017.6 398 1023.5 409.9C1029.4 421.8 1032.4 445.3 1038.3 445.3C1044.3 445.3 1047.2 362.5 1053.2 362.5C1059.1 362.5 1062.1 382.9 1068 392.9C1073.9 402.9 1076.9 410.6 1082.8 412.6C1088.8 414.7 1091.7 412.6 1097.7 414.7C1103.6 416.7 1106.6 424.9 1112.5 424.9C1118.4 424.9 1121.4 358.8 1127.3 358.8C1133.3 358.8 1136.2 390.4 1142.2 404.5C1148.1 418.5 1151.1 429 1157 429C1162.9 429 1165.9 392.9 1171.8 392.9C1177.8 392.9 1180.7 424.9 1186.7 424.9C1192.6 424.9 1195.6 381.6 1201.5 381.6C1207.4 381.6 1210.4 381.6 1216.3 382.4C1222.3 383.2 1225.2 393.8 1231.2 404.5C1237.1 415.1 1240.1 435.8 1246 435.8C1251.9 435.8 1254.9 352.5 1260.9 352.5C1266.8 352.5 1269.8 384.5 1275.7 401.7C1281.6 418.9 1284.6 438.5 1290.5 438.5C1296.5 438.5 1299.4 394.9 1305.4 394.9C1311.3 394.9 1314.3 437.1 1320.2 437.1C1326.1 437.1 1329.1 393.6 1335 391.5C1341 389.5 1343.9 389.5 1349.9 389.5C1355.8 389.5 1358.8 425.6 1364.7 425.6C1370.6 425.6 1373.6 375.2 1379.5 375.2C1385.5 375.2 1388.4 391.9 1394.4 403.8C1400.3 415.6 1403.3 434.4 1409.2 434.4C1415.1 434.4 1418.1 424.4 1424 415.3C1430 406.3 1432.9 389.2 1438.9 389.2C1444.8 389.2 1447.8 389.2 1453.7 390.2C1459.6 391.1 1468.5 420.8 1468.5 420.8" fill="none" stroke="#b2e44e" stroke-width="1.6" stroke-linejoin="round" stroke-linecap="round"/>
<path d="M222.4 426.2C222.4 426.2 231.3 458.9 237.2 458.9C243.2 458.9 246.1 385.7 252.1 385.7C258 385.7 261 387.8 266.9 392.2C272.8 396.6 275.8 402.4 281.7 407.9C287.7 413.4 290.6 419.7 296.6 419.7C302.5 419.7 305.5 413.7 311.4 409.9C317.3 406.1 320.3 400.6 326.2 400.6C332.2 400.6 335.1 413.6 341.1 422.8C347 432.1 350 446.9 355.9 446.9C361.8 446.9 364.8 427.8 370.8 418.1C376.7 408.3 379.7 398.3 385.6 398.3C391.5 398.3 394.5 422.2 400.4 422.2C406.4 422.2 409.3 374.9 415.3 374.9C421.2 374.9 424.2 439.9 430.1 439.9C436 439.9 439 439.9 444.9 433C450.9 426.2 453.8 389.2 459.8 389.2C465.7 389.2 468.7 402.4 474.6 411.9C480.5 421.5 483.5 437.1 489.4 437.1C495.4 437.1 498.3 388.4 504.3 388.4C510.2 388.4 513.2 434.4 519.1 434.4C525 434.4 528 428.7 533.9 428.7C539.9 428.7 542.8 439.2 548.8 439.2C554.7 439.2 557.7 371.5 563.6 371.5C569.5 371.5 572.5 389.7 578.4 404.5C584.4 419.2 587.3 445.3 593.3 445.3C599.2 445.3 602.2 409.2 608.1 409.2C614 409.2 617 409.2 622.9 409.2C628.9 409.2 631.8 421.7 637.8 426.2C643.7 430.7 646.7 431.7 652.6 431.7C658.5 431.7 661.5 390.2 667.5 390.2C673.4 390.2 676.4 400.8 682.3 414C688.2 427.2 691.2 456.2 697.1 456.2C703.1 456.2 706 382.4 712 382.4C717.9 382.4 720.9 406.2 726.8 416.7C732.7 427.2 735.7 435.1 741.6 435.1C747.6 435.1 750.5 424.6 756.5 424.6C762.4 424.6 765.4 425.6 771.3 425.6C777.2 425.6 780.2 399 786.1 399C792.1 399 795 413.8 801 421.5C806.9 429.1 809.9 437.1 815.8 437.1C821.7 437.1 824.7 386.1 830.6 384.7C836.6 383.4 839.5 383.4 845.5 383.4C851.4 383.4 854.4 437.1 860.3 437.1C866.2 437.1 869.2 419.4 875.1 419.4C881.1 419.4 884 431 890 431C895.9 431 898.9 402.8 904.8 402.8C910.7 402.8 913.7 431.7 919.6 431.7C925.6 431.7 928.5 372.5 934.5 372.5C940.4 372.5 943.4 429.6 949.3 434.4C955.2 439.2 958.2 437.8 964.1 439.2C970.1 440.5 973.1 441.2 979 441.2C984.9 441.2 987.9 388.8 993.8 388.8C999.8 388.8 1002.7 389.3 1008.7 394.9C1014.6 400.5 1017.6 404.5 1023.5 416.7C1029.4 429 1032.4 456.2 1038.3 456.2C1044.3 456.2 1047.2 375.6 1053.2 375.6C1059.1 375.6 1062.1 392.8 1068 401.1C1073.9 409.3 1076.9 414.7 1082.8 416.7C1088.8 418.8 1091.7 416.7 1097.7 418.8C1103.6 420.8 1106.6 427.6 1112.5 427.6C1118.4 427.6 1121.4 362.9 1127.3 362.9C1133.3 362.9 1136.2 412.6 1142.2 422.2C1148.1 431.7 1151.1 431.7 1157 431.7C1162.9 431.7 1165.9 407.2 1171.8 407.2C1177.8 407.2 1180.7 428.3 1186.7 428.3C1192.6 428.3 1195.6 401.1 1201.5 393.6C1207.4 386.1 1210.4 386.1 1216.3 386.1C1222.3 386.1 1225.2 396.6 1231.2 407.2C1237.1 417.8 1240.1 439.2 1246 439.2C1251.9 439.2 1254.9 362 1260.9 362C1266.8 362 1269.8 389.6 1275.7 405.8C1281.6 422.1 1284.6 443.3 1290.5 443.3C1296.5 443.3 1299.4 416 1305.4 416C1311.3 416 1314.3 442.6 1320.2 442.6C1326.1 442.6 1329.1 398.7 1335 398.7C1341 398.7 1343.9 399.8 1349.9 407.2C1355.8 414.6 1358.8 435.8 1364.7 435.8C1370.6 435.8 1373.6 377.9 1379.5 377.9C1385.5 377.9 1388.4 400.1 1394.4 412.6C1400.3 425.1 1403.3 440.5 1409.2 440.5C1415.1 440.5 1418.1 431.1 1424 424.2C1430 417.3 1432.9 406.5 1438.9 405.8C1444.8 405.1 1447.8 405.1 1453.7 405.1C1459.6 405.1 1468.5 433 1468.5 433" fill="none" stroke="#3498db" stroke-width="2.8" stroke-linejoin="round" stroke-linecap="round"/>
<path d="M222.4 437.8C222.4 437.8 231.3 471.2 237.2 471.2C243.2 471.2 246.1 394.9 252.1 394.9C258 394.9 261 397.8 266.9 402.4C272.8 407 275.8 412.1 281.7 418.1C287.7 424.1 290.6 432.4 296.6 432.4C302.5 432.4 305.5 426.6 311.4 422.8C317.3 419.1 320.3 413.7 326.2 413.7C332.2 413.7 335.1 428.5 341.1 437.1C347 445.8 350 456.9 355.9 456.9C361.8 456.9 364.8 437.4 370.8 427.6C376.7 417.8 379.7 407.9 385.6 407.9C391.5 407.9 394.5 436.4 400.4 436.4C406.4 436.4 409.3 385.1 415.3 385.1C421.2 385.1 424.2 451.4 430.1 451.4C436 451.4 439 451.4 444.9 445.3C450.9 439.2 453.8 399.7 459.8 399.7C465.7 399.7 468.7 416.7 474.6 426.2C480.5 435.8 483.5 447.3 489.4 447.3C495.4 447.3 498.3 400.1 504.3 400.1C510.2 400.1 513.2 447.7 519.1 447.7C525 447.7 528 439.9 533.9 439.9C539.9 439.9 542.8 448 548.8 448C554.7 448 557.7 380 563.6 380C569.5 380 572.5 397.6 578.4 415.3C584.4 433 587.3 468.4 593.3 468.4C599.2 468.4 602.2 417.4 608.1 417.4C614 417.4 617 417.4 622.9 418.1C628.9 418.8 631.8 431.3 637.8 435.8C643.7 440.3 646.7 440.5 652.6 440.5C658.5 440.5 661.5 399 667.5 399C673.4 399 676.4 408.8 682.3 422.2C688.2 435.5 691.2 465.7 697.1 465.7C703.1 465.7 706 390.6 712 390.6C717.9 390.6 720.9 415.7 726.8 426.2C732.7 436.8 735.7 443.3 741.6 443.3C747.6 443.3 750.5 436.4 756.5 436.4C762.4 436.4 765.4 436.4 771.3 436.4C777.2 436.4 780.2 407.9 786.1 407.9C792.1 407.9 795 423.9 801 431.7C806.9 439.4 809.9 446.7 815.8 446.7C821.7 446.7 824.7 396.6 830.6 394.2C836.6 391.9 839.5 391.9 845.5 391.9C851.4 391.9 854.4 452.8 860.3 452.8C866.2 452.8 869.2 426.9 875.1 426.9C881.1 426.9 884 444.6 890 444.6C895.9 444.6 898.9 413.3 904.8 413.3C910.7 413.3 913.7 447.3 919.6 447.3C925.6 447.3 928.5 382.4 934.5 382.4C940.4 382.4 943.4 433 949.3 439.9C955.2 446.7 958.2 442.8 964.1 446.7C970.1 450.5 973.1 458.9 979 458.9C984.9 458.9 987.9 399 993.8 399C999.8 399 1002.7 401.6 1008.7 407.9C1014.6 414.1 1017.6 418.6 1023.5 430.3C1029.4 442 1032.4 466.4 1038.3 466.4C1044.3 466.4 1047.2 385.7 1053.2 385.7C1059.1 385.7 1062.1 400 1068 409.9C1073.9 419.8 1076.9 435.1 1082.8 435.1C1088.8 435.1 1091.7 430 1097.7 430C1103.6 430 1106.6 439.2 1112.5 439.2C1118.4 439.2 1121.4 371.5 1127.3 371.5C1133.3 371.5 1136.2 423.8 1142.2 434.4C1148.1 445 1151.1 445 1157 445C1162.9 445 1165.9 416 1171.8 416C1177.8 416 1180.7 439.2 1186.7 439.2C1192.6 439.2 1195.6 408.5 1201.5 402.4C1207.4 396.3 1210.4 396.3 1216.3 396.3C1222.3 396.3 1225.2 421.2 1231.2 431.7C1237.1 442.2 1240.1 448.7 1246 448.7C1251.9 448.7 1254.9 371.5 1260.9 371.5C1266.8 371.5 1269.8 401 1275.7 418.1C1281.6 435.1 1284.6 456.9 1290.5 456.9C1296.5 456.9 1299.4 424.9 1305.4 424.9C1311.3 424.9 1314.3 451.4 1320.2 451.4C1326.1 451.4 1329.1 421.5 1335 419.4C1341 417.4 1343.9 417.4 1349.9 417.4C1355.8 417.4 1358.8 448.7 1364.7 448.7C1370.6 448.7 1373.6 389.5 1379.5 389.5C1385.5 389.5 1388.4 414.5 1394.4 426.2C1400.3 437.9 1403.3 448 1409.2 448C1415.1 448 1418.1 439.4 1424 433C1430 426.6 1432.9 419.2 1438.9 416C1444.8 412.9 1447.8 412.9 1453.7 412.9C1459.6 412.9 1468.5 446 1468.5 446" fill="none" stroke="#8e44ad" stroke-width="2.8" stroke-linejoin="round" stroke-linecap="round"/>
<path d="M222.4 513.8C222.4 513.8 231.3 513.8 237.2 513.8C243.2 513.8 246.1 470.4 252.1 470.4C258 470.4 261 470.4 266.9 470.8C272.8 471.2 275.8 507.5 281.7 507.5C287.7 507.5 290.6 476.4 296.6 476.4C302.5 476.4 305.5 510.4 311.4 510.4C317.3 510.4 320.3 474.2 326.2 474.2C332.2 474.2 335.1 509.1 341.1 511.4C347 513.8 350 513.8 355.9 513.8C361.8 513.8 364.8 513.8 370.8 513.8C376.7 513.8 379.7 474.8 385.6 474.8C391.5 474.8 394.5 512.8 400.4 512.8C406.4 512.8 409.3 469.9 415.3 469.9C421.2 469.9 424.2 513.8 430.1 513.8C436 513.8 439 513.8 444.9 513C450.9 512.2 453.8 475.4 459.8 475.4C465.7 475.4 468.7 475.4 474.6 475.8C480.5 476.2 483.5 511.8 489.4 511.8C495.4 511.8 498.3 475.4 504.3 475.4C510.2 475.4 513.2 513.8 519.1 513.8C525 513.8 528 510.4 533.9 510.4C539.9 510.4 542.8 512 548.8 512C554.7 512 557.7 475.8 563.6 475.8C569.5 475.8 572.5 509.1 578.4 509.5C584.4 509.9 587.3 509.9 593.3 509.9C599.2 509.9 602.2 472.8 608.1 472.8C614 472.8 617 472.8 622.9 475.8C628.9 478.8 631.8 512.4 637.8 512.4C643.7 512.4 646.7 512.4 652.6 511.4C658.5 510.4 661.5 472.8 667.5 472.8C673.4 472.8 676.4 472.8 682.3 480.7C688.2 488.7 691.2 513.8 697.1 513.8C703.1 513.8 706 473.2 712 473.2C717.9 473.2 720.9 512.2 726.8 513C732.7 513.8 735.7 513.8 741.6 513.8C747.6 513.8 750.5 513.8 756.5 513.8C762.4 513.8 765.4 513.8 771.3 513C777.2 512.2 780.2 479.8 786.1 479.8C792.1 479.8 795 503.9 801 508.5C806.9 513 809.9 513 815.8 513C821.7 513 824.7 487.4 830.6 478.8C836.6 470.1 839.5 469.9 845.5 469.9C851.4 469.9 854.4 511.2 860.3 512C866.2 512.8 869.2 512.8 875.1 512.8C881.1 512.8 884 512.8 890 510.4C895.9 508.1 898.9 471.2 904.8 471.2C910.7 471.2 913.7 513 919.6 513C925.6 513 928.5 465.9 934.5 465.9C940.4 465.9 943.4 509.5 949.3 511.4C955.2 513.4 958.2 513.4 964.1 513.4C970.1 513.4 973.1 513.4 979 512.4C984.9 511.4 987.9 473.2 993.8 473.2C999.8 473.2 1002.7 473.9 1008.7 474.2C1014.6 474.5 1017.6 474.2 1023.5 474.8C1029.4 475.4 1032.4 513 1038.3 513C1044.3 513 1047.2 473.2 1053.2 473.2C1059.1 473.2 1062.1 473.2 1068 473.8C1073.9 474.4 1076.9 513 1082.8 513C1088.8 513 1091.7 513 1097.7 512.4C1103.6 511.8 1106.6 512.4 1112.5 509.5C1118.4 506.5 1121.4 467.9 1127.3 467.9C1133.3 467.9 1136.2 513 1142.2 513C1148.1 513 1151.1 512.4 1157 512.4C1162.9 512.4 1165.9 512.7 1171.8 512.8C1177.8 512.9 1180.7 513 1186.7 513C1192.6 513 1195.6 486.3 1201.5 479.8C1207.4 473.2 1210.4 473.2 1216.3 473.2C1222.3 473.2 1225.2 511 1231.2 511C1237.1 511 1240.1 511 1246 507.5C1251.9 503.9 1254.9 479.2 1260.9 479.2C1266.8 479.2 1269.8 479.2 1275.7 481.7C1281.6 484.3 1284.6 511.8 1290.5 512.4C1296.5 513 1299.4 513 1305.4 513C1311.3 513 1314.3 513 1320.2 512.4C1326.1 511.8 1329.1 468.9 1335 468.9C1341 468.9 1343.9 503.5 1349.9 508.5C1355.8 513.4 1358.8 513.4 1364.7 513.4C1370.6 513.4 1373.6 463.9 1379.5 463.9C1385.5 463.9 1388.4 511.8 1394.4 512.4C1400.3 513 1403.3 513 1409.2 513C1415.1 513 1418.1 513 1424 513C1430 513 1432.9 481.7 1438.9 480.7C1444.8 479.8 1447.8 479.8 1453.7 479.8C1459.6 479.8 1468.5 513.4 1468.5 513.4" fill="none" stroke="#f39c12" stroke-width="2.8" stroke-linejoin="round" stroke-linecap="round"/>
<path d="M222.4 521.5L1468.5 521.5" stroke="#7f8c8d" stroke-width="2.2" fill="none"/>
<text x="186.3" y="307" text-anchor="end" class="yl">400 ms</text>
<text x="186.3" y="362.7" text-anchor="end" class="yl">300 ms</text>
<text x="186.3" y="418.4" text-anchor="end" class="yl">200 ms</text>
<text x="186.3" y="474.2" text-anchor="end" class="yl">100 ms</text>
<text x="186.3" y="529.9" text-anchor="end" class="yl">0 ms</text>
<text x="259.1" y="574" text-anchor="middle" class="xl" transform="rotate(-20 259.1 574)">07:00 AM</text>
<text x="407.5" y="574" text-anchor="middle" class="xl" transform="rotate(-20 407.5 574)">08:00 AM</text>
<text x="555.8" y="574" text-anchor="middle" class="xl" transform="rotate(-20 555.8 574)">09:00 AM</text>
<text x="704.1" y="574" text-anchor="middle" class="xl" transform="rotate(-20 704.1 574)">10:00 AM</text>
<text x="852.5" y="574" text-anchor="middle" class="xl" transform="rotate(-20 852.5 574)">11:00 AM</text>
<text x="1000.9" y="574" text-anchor="middle" class="xl" transform="rotate(-20 1000.9 574)">12:00 PM</text>
<text x="1149.2" y="574" text-anchor="middle" class="xl" transform="rotate(-20 1149.2 574)">01:00 PM</text>
<text x="1297.6" y="574" text-anchor="middle" class="xl" transform="rotate(-20 1297.6 574)">02:00 PM</text>
<text x="1445.9" y="574" text-anchor="middle" class="xl" transform="rotate(-20 1445.9 574)">03:00 PM</text></svg>
<svg class="ico" width="1616" height="919" viewBox="0 0 1616 919" style="position:absolute;left:0;top:0">
<defs><filter id="sh" x="-30%" y="-30%" width="170%" height="170%"><feDropShadow dx="2.8" dy="3" stdDeviation="1.6" flood-color="#182433" flood-opacity="0.6"/></filter></defs>
<polygon points="16,29.5 27.7,34 32,45.8 20.2,41.3" fill="#4dd9b8"/>
<polygon points="57.1,26.2 39.2,33.2 33,50.8 50.6,44.3" fill="#38ac90"/>
<g fill="#8fa7c4" filter="url(#sh)">
<rect x="22.3" y="157" width="7.9" height="6.7" rx="1.2"/>
<rect x="32" y="157" width="7.9" height="6.7" rx="1.2"/>
<rect x="41.8" y="157" width="7.9" height="6.7" rx="1.2"/>
<rect x="22.3" y="165.6" width="7.9" height="6.7" rx="1.2"/>
<rect x="32" y="165.6" width="7.9" height="6.7" rx="1.2"/>
<rect x="41.8" y="165.6" width="7.9" height="6.7" rx="1.2"/>
<rect x="22.3" y="174.1" width="7.9" height="6.7" rx="1.2"/>
<rect x="32" y="174.1" width="7.9" height="6.7" rx="1.2"/>
<rect x="41.8" y="174.1" width="7.9" height="6.7" rx="1.2"/>
</g>
<g filter="url(#sh)"><path d="M24.1 222.5V239.8H48.6" fill="none" stroke="#8fa7c4" stroke-width="3.6" stroke-linecap="round" stroke-linejoin="round"/>
<path d="M28.6 231.8L32.3 228L37.2 232.9L44.5 225.8" fill="none" stroke="#8fa7c4" stroke-width="3.4" stroke-linecap="round" stroke-linejoin="round"/>
<path d="M41.2 223.4H47.4Q48.2 223.4 48.2 224.2V230.4Z" fill="#8fa7c4"/></g>
<text x="15.2" y="364.9" font-family="Liberation Sans,sans-serif" font-weight="bold" font-style="italic" font-size="22" letter-spacing="-0.7" fill="#8fa7c4" filter="url(#sh)">SEO</text>
<g filter="url(#sh)" fill="#8fa7c4">
<path d="M29.6 414.7V412Q29.6 409.2 32.4 409.2H39.9Q42.7 409.2 42.7 412V414.7H39.8V412.6Q39.8 412 39.2 412H33.1Q32.5 412 32.5 412.6V414.7Z"/>
<path d="M25 414.6H47.3Q49.9 414.6 49.9 417.2V421.3H22.4V417.2Q22.4 414.6 25 414.6Z"/>
<path d="M22.4 423H32.8V425Q32.8 425.8 33.6 425.8H38.8Q39.6 425.8 39.6 425V423H49.9V430.3Q49.9 432.9 47.3 432.9H25Q22.4 432.9 22.4 430.3Z"/>
</g>
<g filter="url(#sh)" fill="#8fa7c4">
<rect x="31" y="470.2" width="10.2" height="9" rx="1.8"/>
<rect x="19.1" y="489.3" width="8.7" height="8" rx="1.6"/>
<rect x="31.8" y="489.3" width="8.7" height="8" rx="1.6"/>
<rect x="44.5" y="489.3" width="8.7" height="8" rx="1.6"/>
<path d="M36.15 479V487M23.2 487V484.4Q23.2 482.9 24.7 482.9H47.6Q49.1 482.9 49.1 484.4V487" fill="none" stroke="#8fa7c4" stroke-width="2"/>
</g>
<g filter="url(#sh)" fill="#8fa7c4">
<path d="M28 537H44.2Q45 537 45.5 537.7L50.2 545.6H21.8L26.7 537.7Q27.2 537 28 537Z"/>
<path d="M23.2 547.1H48.7Q51.1 547.1 51.1 549.5V554.3Q51.1 556.7 48.7 556.7H23.2Q20.8 556.7 20.8 554.3V549.5Q20.8 547.1 23.2 547.1ZM40.9 550.4A1.5 1.5 0 1 0 40.9 553.4A1.5 1.5 0 1 0 40.9 550.4ZM46.1 550.4A1.5 1.5 0 1 0 46.1 553.4A1.5 1.5 0 1 0 46.1 550.4Z" fill-rule="evenodd"/>
</g>
<g filter="url(#sh)" fill="#8fa7c4">
<path d="M49.6 596.5Q51 603.5 46.3 609.6Q44.6 611.8 42.6 613.4L42.9 619.2Q42.9 620 42.2 620.4L36.5 623.2Q35 623.8 35 622.3V616.6L33.3 617.3L28.6 612.7L29.4 611H23.7Q22.2 611 22.9 609.6L25.7 603.9Q26.1 603.1 26.9 603.1L32.6 603.4Q34.2 601.4 36.4 599.7Q42.5 595 49.6 596.5ZM42.7 601A2.2 2.2 0 1 0 42.7 605.4A2.2 2.2 0 1 0 42.7 601Z" fill-rule="evenodd"/>
</g>
<g filter="url(#sh)" fill="#8fa7c4">
<path d="M22.9 672.1Q21.6 666.1 25.3 662.6Q28.9 659.5 33.3 662.2Q35.2 663.5 36.3 664.9Q37.4 663.5 39.3 662.2Q43.7 659.5 47.3 662.6Q51 666.1 49.7 672.1H41.2L39.9 669.5Q39.4 668.7 38.9 669.6L36.7 674.6L33.9 668Q33.4 667.1 32.9 668L30.9 672.1Z"/>
<path d="M24.7 674.2H31.6Q32.2 674.2 32.5 673.6L33.4 671.5L36.2 678.1Q36.7 679 37.2 678.1L39.4 672.9L39.8 673.6Q40.1 674.2 40.7 674.2H47.9L37 684.6Q36.3 685.2 35.6 684.6Z"/>
</g>
<path d="M1433.3 26.7H1456.4Q1458.6 26.7 1458.6 28.9V44.8Q1458.6 47 1456.4 47H1433.3Q1431.1 47 1431.1 44.8V28.9Q1431.1 26.7 1433.3 26.7Z" fill="#466180"/>
<path d="M1430.6 31.3L1443 40.2Q1444.85 41.5 1446.7 40.2L1459.1 31.3" fill="none" stroke="#fff" stroke-width="2"/>
<circle cx="1457.9" cy="49.5" r="12" fill="#e74c3c"/>
<circle cx="1508" cy="30" r="6.7" fill="#466180"/>
<path d="M1496.3 47.6V46.4Q1496.3 38.7 1503.2 38.7Q1505.6 39.9 1508.1 39.9Q1510.6 39.9 1513 38.7Q1519.9 38.7 1519.9 46.4V47.6Q1519.9 49.9 1517.6 49.9H1498.6Q1496.3 49.9 1496.3 47.6Z" fill="#466180"/>
<path d="M1563.7 28.2A11.2 11.2 0 1 0 1578.1 28.2" fill="none" stroke="#466180" stroke-width="3.8" stroke-linecap="round"/>
<path d="M1570.9 25.2V36.6" fill="none" stroke="#466180" stroke-width="3.7" stroke-linecap="round"/>
<path d="M300.1 34.4L306.0 39.8L300.1 45.3" fill="none" stroke="#3f5b7b" stroke-width="3.3" stroke-linecap="square" stroke-linejoin="miter"/>
<path d="M439.6 34.4L445.5 39.8L439.6 45.3" fill="none" stroke="#3f5b7b" stroke-width="3.3" stroke-linecap="square" stroke-linejoin="miter"/>
<path d="M374.8 104.2L379.8 109.6L384.8 104.2" fill="none" stroke="#3f5b7b" stroke-width="2.5" stroke-linecap="round" stroke-linejoin="round"/>
<path d="M636.8000000000001 104.2L641.8000000000001 109.6L646.8000000000001 104.2" fill="none" stroke="#3f5b7b" stroke-width="2.5" stroke-linecap="round" stroke-linejoin="round"/>
<path d="M843.9000000000001 104.2L848.9000000000001 109.6L853.9000000000001 104.2" fill="none" stroke="#3f5b7b" stroke-width="2.5" stroke-linecap="round" stroke-linejoin="round"/>
<path d="M1571.6000000000001 104.2L1576.6000000000001 109.6L1581.6000000000001 104.2" fill="none" stroke="#3f5b7b" stroke-width="2.5" stroke-linecap="round" stroke-linejoin="round"/>
<g fill="#466180">
<path d="M977.5 97.1H991.9Q993.9 97.1 993.9 99.1V100.8H975.5V99.1Q975.5 97.1 977.5 97.1Z"/>
<rect x="979.4" y="94.3" width="2.6" height="4.4" rx="1.1"/><rect x="987.3" y="94.3" width="2.6" height="4.4" rx="1.1"/>
<path d="M975.5 102.9H993.9V113.9Q993.9 115.9 991.9 115.9H977.5Q975.5 115.9 975.5 113.9ZM978 105.1V107.69999999999999H980.8V105.1ZM983.3 105.1V107.69999999999999H986.0999999999999V105.1ZM988.6 105.1V107.69999999999999H991.4V105.1ZM978 110.3V112.89999999999999H980.8V110.3ZM983.3 110.3V112.89999999999999H986.0999999999999V110.3ZM988.6 110.3V112.89999999999999H991.4V110.3Z" fill-rule="evenodd"/>
</g>
<path d="M151.2 152.2H166.2Q168.4 152.2 168.4 154.4V164.7Q168.4 166.9 166.2 166.9H151.2Q149 166.9 149 164.7V154.4Q149 152.2 151.2 152.2ZM151.5 154.7V164.4H165.9V154.7ZM153.9 155.5A1.7 1.7 0 1 0 153.9 158.9A1.7 1.7 0 1 0 153.9 155.5ZM152.2 163.8V162L155.4 159.3L157.6 161.2L162 156.8L165.2 160V163.8Z" fill="#466180" fill-rule="evenodd"/>
<path d="M406.6 154.3L401.5 159.5L406.6 164.7M417.4 154.3L422.5 159.5L417.4 164.7" fill="none" stroke="#466180" stroke-width="3" stroke-linecap="round" stroke-linejoin="round"/>
<path d="M414.5 151.2L409.5 167.8" fill="none" stroke="#466180" stroke-width="2.8" stroke-linecap="round"/>
<rect x="640.9" y="151.1" width="19.8" height="5.1" rx="1.3" fill="#1db49a"/>
<circle cx="655.4" cy="153.65" r="0.75" fill="#fff"/><circle cx="658" cy="153.65" r="0.75" fill="#fff"/>
<rect x="640.9" y="157.3" width="19.8" height="5.1" rx="1.3" fill="#1db49a"/>
<circle cx="655.4" cy="159.85000000000002" r="0.75" fill="#fff"/><circle cx="658" cy="159.85000000000002" r="0.75" fill="#fff"/>
<rect x="640.9" y="163.4" width="19.8" height="5.1" rx="1.3" fill="#1db49a"/>
<circle cx="655.4" cy="165.95000000000002" r="0.75" fill="#fff"/><circle cx="658" cy="165.95000000000002" r="0.75" fill="#fff"/>
<path d="M907.8 159.4Q912.4 151.9 918.5 151.9Q924.6 151.9 929.2 159.4Q924.6 166.9 918.5 166.9Q912.4 166.9 907.8 159.4Z" fill="#466180"/>
<circle cx="918.5" cy="159.4" r="5.3" fill="none" stroke="#fff" stroke-width="1.6"/>
<circle cx="916.8" cy="157.6" r="1.5" fill="#fff"/>
<rect x="1144.5" y="150.6" width="20.4" height="20.6" rx="1.6" fill="#fff" stroke="#9aaabb" stroke-width="1"/>
<path d="M1146.8 159.4H1149.6L1150.8 157L1152.2 162L1153.8 155.8L1155.4 162.8L1157 157.2L1158.4 161L1159.4 159.4H1163" fill="none" stroke="#3f5b7b" stroke-width="1.05" stroke-linejoin="round"/>
<path d="M1145 166.6H1164.4M1145 168.8H1164.4M1147.6 166.6V171M1150.2 166.6V171M1152.8 166.6V171M1155.4 166.6V171M1158 166.6V171M1160.6 166.6V171M1163.2 166.6V171" fill="none" stroke="#b7c3cf" stroke-width="0.6"/>
<path d="M1442.1 152.23499999999999L1446.3999999999999 154.6L1442.1 156.965L1437.8 154.6Z" fill="#fff" stroke="#466180" stroke-width="1.4" stroke-linejoin="round"/><path d="M1437.8 154.6L1442.1 156.965V161.48L1437.8 159.11499999999998Z" fill="#466180" stroke="#466180" stroke-width="1.4" stroke-linejoin="round"/><path d="M1446.3999999999999 154.6L1442.1 156.965V161.48L1446.3999999999999 159.11499999999998Z" fill="#fff" stroke="#466180" stroke-width="1.4" stroke-linejoin="round"/>
<path d="M1437.3 158.83499999999998L1441.6 161.2L1437.3 163.565L1433.0 161.2Z" fill="#fff" stroke="#466180" stroke-width="1.4" stroke-linejoin="round"/><path d="M1433.0 161.2L1437.3 163.565V168.07999999999998L1433.0 165.71499999999997Z" fill="#466180" stroke="#466180" stroke-width="1.4" stroke-linejoin="round"/><path d="M1441.6 161.2L1437.3 163.565V168.07999999999998L1441.6 165.71499999999997Z" fill="#fff" stroke="#466180" stroke-width="1.4" stroke-linejoin="round"/>
<path d="M1446.9 158.83499999999998L1451.2 161.2L1446.9 163.565L1442.6000000000001 161.2Z" fill="#fff" stroke="#466180" stroke-width="1.4" stroke-linejoin="round"/><path d="M1442.6000000000001 161.2L1446.9 163.565V168.07999999999998L1442.6000000000001 165.71499999999997Z" fill="#466180" stroke="#466180" stroke-width="1.4" stroke-linejoin="round"/><path d="M1451.2 161.2L1446.9 163.565V168.07999999999998L1451.2 165.71499999999997Z" fill="#fff" stroke="#466180" stroke-width="1.4" stroke-linejoin="round"/>
<polygon points="133.5,217.0 136.8,225.1 145.5,225.7 138.8,231.3 140.9,239.8 133.5,235.2 126.1,239.8 128.2,231.3 121.5,225.7 130.2,225.1" fill="none" stroke="#8a9a90" stroke-width="2" stroke-linejoin="round"/>
<circle cx="178.1" cy="220.7" r="3.3" fill="#fff"/>
<circle cx="178.1" cy="228.6" r="3.3" fill="#fff"/>
<circle cx="178.1" cy="236.6" r="3.3" fill="#fff"/>
<circle cx="1571.5" cy="829.3" r="21.8" fill="#fff" stroke="#466180" stroke-width="1.3" style="filter:drop-shadow(0 1px 2px rgba(0,0,0,.3))"/>
<circle cx="1571.5" cy="881.2" r="21.8" fill="#fff" stroke="#466180" stroke-width="1.3" style="filter:drop-shadow(0 1px 2px rgba(0,0,0,.3))"/>
<path d="M1564.2 817.1H1577.8Q1579.4 817.1 1579.4 818.7V839.4L1571 834.7L1562.6 839.4V818.7Q1562.6 817.1 1564.2 817.1Z" fill="#466180"/>
<text x="1571.6" y="891.2" text-anchor="middle" font-family="Liberation Sans,sans-serif" font-weight="bold" font-size="30.5" fill="#466180">?</text>
</svg>
<div style="position:absolute;left:149px;top:640.8px;width:26px;height:20px;box-sizing:border-box;border:1px solid #84908f;background:#98a5a5;border-radius:2.5px"></div>
<div style="position:absolute;left:149px;top:678.3px;width:26px;height:20px;box-sizing:border-box;border:1px solid #f39c12;background:#f5ab36;border-radius:2.5px"></div>
<div style="position:absolute;left:149px;top:715.8px;width:26px;height:20px;box-sizing:border-box;border:1px solid #8e44ad;background:#9f60b9;border-radius:2.5px"></div>
<div style="position:absolute;left:149px;top:753.3px;width:26px;height:20px;box-sizing:border-box;border:1px solid #c0392b;background:#c9574b;border-radius:2.5px"></div>
<div style="position:absolute;left:149px;top:790.8px;width:26px;height:20px;box-sizing:border-box;border:1px solid #3498db;background:#52a7e0;border-radius:2.5px"></div>
<div style="position:absolute;left:149px;top:828.3px;width:26px;height:20px;box-sizing:border-box;border:1px solid #b5e655;background:#c4ee72;border-radius:2.5px"></div>
<div style="position:absolute;left:149px;top:865.8px;width:26px;height:20px;box-sizing:border-box;border:1px solid #34495e;background:#4c5e71;border-radius:2.5px"></div>
<svg class="txt" width="1616" height="919" viewBox="0 0 1616 919" style="position:absolute;left:0;top:0">
<text id="h1" class="t" x="98.2" y="48" font-size="30" fill="#3f5b7b" letter-spacing="-0.082" stroke="#ffffff" stroke-width="0.57" >User journeys</text>
<text id="h2" class="t" x="324" y="48" font-size="30" fill="#3f5b7b" letter-spacing="-0.150" stroke="#ffffff" stroke-width="0.57" >journey</text>
<text id="h3" class="t" x="463.3" y="48" font-size="30" fill="#3f5b7b" letter-spacing="0.160" stroke="#ffffff" stroke-width="0.57" >step</text>
<text id="s1" class="t" x="112.7" y="114.3" font-size="21" fill="#3f5b7b" letter-spacing="0.026" stroke="#ffffff" stroke-width="0.29" >www.website-250149.com</text>
<text id="s2" class="t" x="462.8" y="114.3" font-size="21" fill="#3f5b7b" letter-spacing="-0.244" stroke="#ffffff" stroke-width="0.29" >1. Navigation …</text>
<text id="s3" class="t" x="770.9" y="114.3" font-size="21" fill="#3f5b7b" letter-spacing="-0.307" stroke="#ffffff" stroke-width="0.29" >Home</text>
<text id="s4" class="t" x="1002.7" y="112.8" font-size="21" fill="#3f5b7b" letter-spacing="0.074" stroke="#ffffff" stroke-width="0.29" >September 22 2022 6:42 am - september 22 2022 3:12 pm</text>
<text id="t1" class="t" x="184.3" y="166.8" font-size="19.5" fill="#3f5b7b" letter-spacing="-0.257" stroke="#ffffff" stroke-width="0.27" >Hero Time</text>
<text id="t2" class="t" x="439.6" y="166.8" font-size="19.5" fill="#3f5b7b" letter-spacing="0.129" stroke="#ffffff" stroke-width="0.27" >Application</text>
<text id="t3" class="t" x="675.6" y="166.8" font-size="19.5" fill="#1db49a" letter-spacing="0.028" stroke="#ffffff" stroke-width="0.27" >Network details</text>
<text id="t4" class="t" x="944.2" y="166.8" font-size="19.5" fill="#3f5b7b" letter-spacing="0.047" stroke="#ffffff" stroke-width="0.27" >Performance</text>
<text id="t5" class="t" x="1180.5" y="166.8" font-size="19.5" fill="#3f5b7b" letter-spacing="-0.149" stroke="#ffffff" stroke-width="0.27" >Core Web Vitals</text>
<text id="t6" class="t" x="1467.1" y="166.8" font-size="19.5" fill="#3f5b7b" letter-spacing="-0.151" stroke="#ffffff" stroke-width="0.27" >Resources</text>
<text id="p1" class="t" x="208.5" y="239.6" font-size="24" fill="#ffffff" letter-spacing="-0.022" stroke="#577ba0" stroke-width="0.34" >1. Navigation Simple - Home - Network requests details</text>
<text id="l0" class="t" x="192.4" y="657.7" font-size="18" fill="#7f8c8d" letter-spacing="-0.007" stroke="#ffffff" stroke-width="0.25" >Request in queue</text>
<text id="lm0" class="t" x="659.8" y="656.7" font-size="18" fill="#7f8c8d" letter-spacing="-0.653" stroke="#ffffff" stroke-width="0.25" >min</text>
<text id="lmv0" class="t" x="699.4" y="656.7" font-size="18" fill="#3f5b7b" letter-spacing="0.000" stroke="#ffffff" stroke-width="0.25" >0.21 ms</text>
<text id="la0" class="t" x="891.5" y="656.7" font-size="18" fill="#7f8c8d" letter-spacing="-0.091" stroke="#ffffff" stroke-width="0.25" >average</text>
<text id="lav0" class="t" x="967.9" y="656.7" font-size="18" fill="#3f5b7b" letter-spacing="0.000" stroke="#ffffff" stroke-width="0.25" >0.29 ms</text>
<text id="lx0" class="t" x="1122.4" y="656.7" font-size="18" fill="#7f8c8d" letter-spacing="-0.403" stroke="#ffffff" stroke-width="0.25" >max</text>
<text id="lxv0" class="t" x="1166.7" y="656.7" font-size="18" fill="#3f5b7b" letter-spacing="0.000" stroke="#ffffff" stroke-width="0.25" >0.41 ms</text>
<text id="l1" class="t" x="192.4" y="695.2" font-size="18" fill="#f39c12" letter-spacing="-0.117" stroke="#ffffff" stroke-width="0.25" >DNS lookup</text>
<text id="lm1" class="t" x="659.8" y="694.2" font-size="18" fill="#f39c12" letter-spacing="-0.653" stroke="#ffffff" stroke-width="0.25" >min</text>
<text id="lmv1" class="t" x="699.4" y="694.2" font-size="18" fill="#3f5b7b" letter-spacing="0.000" stroke="#ffffff" stroke-width="0.25" >12.2 ms</text>
<text id="la1" class="t" x="891.5" y="694.2" font-size="18" fill="#f39c12" letter-spacing="-0.091" stroke="#ffffff" stroke-width="0.25" >average</text>
<text id="lav1" class="t" x="967.9" y="694.2" font-size="18" fill="#3f5b7b" letter-spacing="0.000" stroke="#ffffff" stroke-width="0.25" >42.85 ms</text>
<text id="lx1" class="t" x="1122.4" y="694.2" font-size="18" fill="#f39c12" letter-spacing="-0.403" stroke="#ffffff" stroke-width="0.25" >max</text>
<text id="lxv1" class="t" x="1166.7" y="694.2" font-size="18" fill="#3f5b7b" letter-spacing="0.000" stroke="#ffffff" stroke-width="0.25" >101.65 ms</text>
<text id="l2" class="t" x="192.4" y="732.7" font-size="18" fill="#8e44ad" letter-spacing="-0.022" stroke="#ffffff" stroke-width="0.25" >Connection to the server</text>
<text id="lm2" class="t" x="659.8" y="731.7" font-size="18" fill="#8e44ad" letter-spacing="-0.653" stroke="#ffffff" stroke-width="0.25" >min</text>
<text id="lmv2" class="t" x="699.4" y="731.7" font-size="18" fill="#3f5b7b" letter-spacing="0.000" stroke="#ffffff" stroke-width="0.25" >72.52 ms</text>
<text id="la2" class="t" x="891.5" y="731.7" font-size="18" fill="#8e44ad" letter-spacing="-0.091" stroke="#ffffff" stroke-width="0.25" >average</text>
<text id="lav2" class="t" x="967.9" y="731.7" font-size="18" fill="#3f5b7b" letter-spacing="0.000" stroke="#ffffff" stroke-width="0.25" >126.23 ms</text>
<text id="lx2" class="t" x="1122.4" y="731.7" font-size="18" fill="#8e44ad" letter-spacing="-0.403" stroke="#ffffff" stroke-width="0.25" >max</text>
<text id="lxv2" class="t" x="1166.7" y="731.7" font-size="18" fill="#3f5b7b" letter-spacing="0.000" stroke="#ffffff" stroke-width="0.25" >193.19 ms</text>
<text id="l3" class="t" x="192.4" y="770.2" font-size="18" fill="#c0392b" letter-spacing="0.000" stroke="#ffffff" stroke-width="0.25" >Redirection(s)</text>
<text id="lm3" class="t" x="659.8" y="769.2" font-size="18" fill="#c0392b" letter-spacing="-0.653" stroke="#ffffff" stroke-width="0.25" >min</text>
<text id="lmv3" class="t" x="699.4" y="769.2" font-size="18" fill="#3f5b7b" letter-spacing="0.000" stroke="#ffffff" stroke-width="0.25" >0 ms</text>
<text id="la3" class="t" x="891.5" y="769.2" font-size="18" fill="#c0392b" letter-spacing="-0.091" stroke="#ffffff" stroke-width="0.25" >average</text>
<text id="lav3" class="t" x="967.9" y="769.2" font-size="18" fill="#3f5b7b" letter-spacing="0.000" stroke="#ffffff" stroke-width="0.25" >0 ms</text>
<text id="lx3" class="t" x="1122.4" y="769.2" font-size="18" fill="#c0392b" letter-spacing="-0.403" stroke="#ffffff" stroke-width="0.25" >max</text>
<text id="lxv3" class="t" x="1166.7" y="769.2" font-size="18" fill="#3f5b7b" letter-spacing="0.000" stroke="#ffffff" stroke-width="0.25" >0 ms</text>
<text id="l4" class="t" x="192.4" y="807.7" font-size="18" fill="#3498db" letter-spacing="0.000" stroke="#ffffff" stroke-width="0.25" >Waiting for the server response</text>
<text id="lm4" class="t" x="659.8" y="806.7" font-size="18" fill="#3498db" letter-spacing="-0.653" stroke="#ffffff" stroke-width="0.25" >min</text>
<text id="lmv4" class="t" x="699.4" y="806.7" font-size="18" fill="#3f5b7b" letter-spacing="0.000" stroke="#ffffff" stroke-width="0.25" >13.99 ms</text>
<text id="la4" class="t" x="891.5" y="806.7" font-size="18" fill="#3498db" letter-spacing="-0.091" stroke="#ffffff" stroke-width="0.25" >average</text>
<text id="lav4" class="t" x="967.9" y="806.7" font-size="18" fill="#3f5b7b" letter-spacing="0.000" stroke="#ffffff" stroke-width="0.25" >20.76 ms</text>
<text id="lx4" class="t" x="1122.4" y="806.7" font-size="18" fill="#3498db" letter-spacing="-0.403" stroke="#ffffff" stroke-width="0.25" >max</text>
<text id="lxv4" class="t" x="1166.7" y="806.7" font-size="18" fill="#3f5b7b" letter-spacing="0.000" stroke="#ffffff" stroke-width="0.25" >51.04 ms</text>
<text id="l5" class="t" x="192.4" y="845.2" font-size="18" fill="#b5e655" letter-spacing="0.000" stroke="#ffffff" stroke-width="0.25" >Receiving server response</text>
<text id="lm5" class="t" x="659.8" y="844.2" font-size="18" fill="#b5e655" letter-spacing="-0.653" stroke="#ffffff" stroke-width="0.25" >min</text>
<text id="lmv5" class="t" x="699.4" y="844.2" font-size="18" fill="#3f5b7b" letter-spacing="0.000" stroke="#ffffff" stroke-width="0.25" >1.81 ms</text>
<text id="la5" class="t" x="891.5" y="844.2" font-size="18" fill="#b5e655" letter-spacing="-0.091" stroke="#ffffff" stroke-width="0.25" >average</text>
<text id="lav5" class="t" x="967.9" y="844.2" font-size="18" fill="#3f5b7b" letter-spacing="0.000" stroke="#ffffff" stroke-width="0.25" >12.9 ms</text>
<text id="lx5" class="t" x="1122.4" y="844.2" font-size="18" fill="#b5e655" letter-spacing="-0.403" stroke="#ffffff" stroke-width="0.25" >max</text>
<text id="lxv5" class="t" x="1166.7" y="844.2" font-size="18" fill="#3f5b7b" letter-spacing="0.000" stroke="#ffffff" stroke-width="0.25" >48.04 ms</text>
<text id="l6" class="t" x="192.4" y="882.7" font-size="18" fill="#34495e" letter-spacing="0.000" stroke="#ffffff" stroke-width="0.25" >XHRs (AJAX requests)</text>
<text id="lm6" class="t" x="659.8" y="881.7" font-size="18" fill="#34495e" letter-spacing="-0.653" stroke="#ffffff" stroke-width="0.25" >min</text>
<text id="lmv6" class="t" x="699.4" y="881.7" font-size="18" fill="#3f5b7b" letter-spacing="0.000" stroke="#ffffff" stroke-width="0.25" >0 ms</text>
<text id="la6" class="t" x="891.5" y="881.7" font-size="18" fill="#34495e" letter-spacing="-0.091" stroke="#ffffff" stroke-width="0.25" >average</text>
<text id="lav6" class="t" x="967.9" y="881.7" font-size="18" fill="#3f5b7b" letter-spacing="0.000" stroke="#ffffff" stroke-width="0.25" >0 ms</text>
<text id="lx6" class="t" x="1122.4" y="881.7" font-size="18" fill="#34495e" letter-spacing="-0.403" stroke="#ffffff" stroke-width="0.25" >max</text>
<text id="lxv6" class="t" x="1166.7" y="881.7" font-size="18" fill="#3f5b7b" letter-spacing="0.000" stroke="#ffffff" stroke-width="0.25" >0 ms</text>
</svg>
</body></html>
